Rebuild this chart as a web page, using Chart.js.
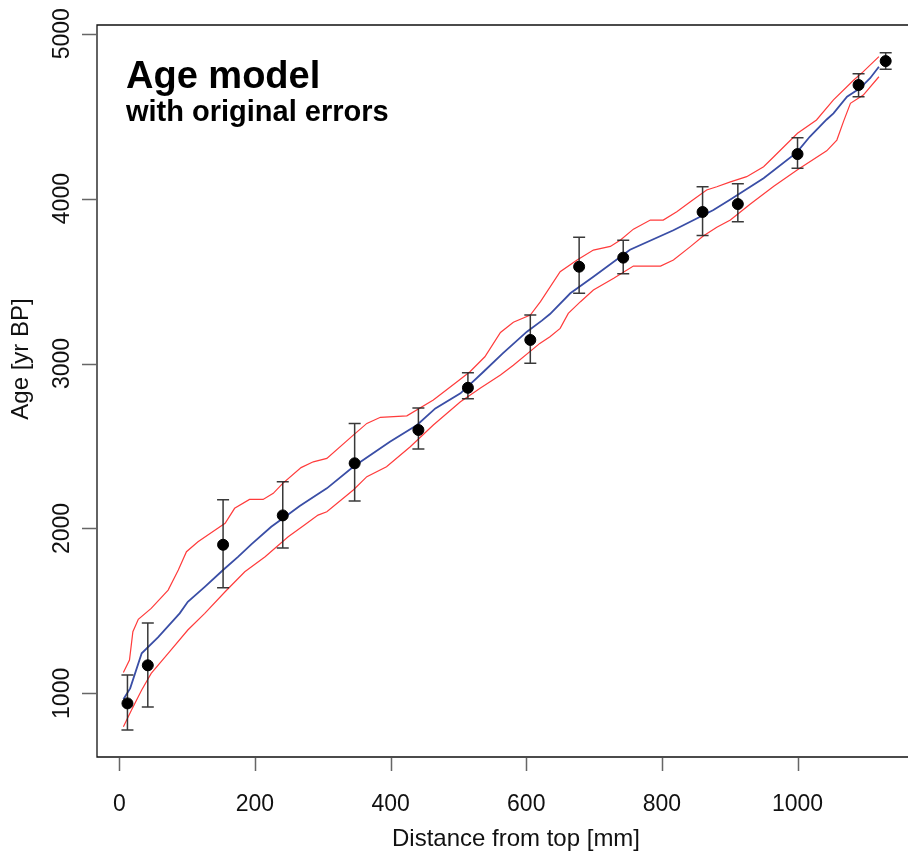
<!DOCTYPE html>
<html>
<head>
<meta charset="utf-8">
<script src="https://cdn.jsdelivr.net/npm/chart.js@4/dist/chart.umd.min.js"></script>
<style>
  html, body { margin: 0; padding: 0; background: #fff; }
  canvas { display: block; }
</style>
</head>
<body>
<canvas id="ageChart" width="908" height="858"></canvas>
<script>
// dated samples
const sampleDepth = [12, 42, 153, 241, 347, 441, 514, 606, 678, 743, 860, 912, 1000, 1090, 1130];
const sampleAge   = [939, 1170, 1901, 2079, 2395, 2597, 2853, 3143, 3587, 3642, 3919, 3967, 4270, 4689, 4834];
const sampleHigh  = [1111, 1426, 2174, 2283, 2637, 2730, 2944, 3294, 3765, 3747, 4072, 4090, 4369, 4757, 4885];
const sampleLow   = [777, 917, 1640, 1881, 2166, 2481, 2787, 3001, 3426, 3545, 3777, 3860, 4184, 4618, 4784];

// model median
const medDepth = [6, 16, 33, 57, 89, 101, 126, 153, 175, 195, 224, 249, 266, 293, 306, 345, 399, 439, 466, 503, 537, 565, 601, 623, 635, 665, 699, 753, 817, 847, 876, 901, 950, 999, 1018, 1043, 1053, 1073, 1092, 1107, 1120];
const medAge   = [964, 1030, 1243, 1340, 1485, 1555, 1646, 1748, 1828, 1905, 2010, 2085, 2136, 2209, 2243, 2374, 2526, 2627, 2728, 2819, 2950, 3060, 3193, 3260, 3300, 3426, 3526, 3690, 3808, 3870, 3931, 3995, 4123, 4280, 4375, 4480, 4517, 4618, 4669, 4730, 4800];

// upper / lower envelope
const upperDepth = [6, 15, 20, 28, 47, 72, 87, 99, 116, 143, 156, 170, 192, 212, 227, 241, 268, 286, 306, 345, 365, 385, 424, 463, 498, 517, 539, 562, 581, 606, 621, 650, 675, 699, 724, 739, 758, 783, 802, 822, 842, 866, 881, 900, 925, 950, 965, 1000, 1028, 1053, 1083, 1097, 1120];
const upperAge   = [1127, 1202, 1374, 1449, 1515, 1626, 1748, 1859, 1919, 1995, 2031, 2122, 2176, 2176, 2213, 2273, 2369, 2404, 2425, 2566, 2637, 2674, 2683, 2779, 2890, 2950, 3041, 3188, 3250, 3294, 3375, 3557, 3628, 3688, 3710, 3749, 3815, 3870, 3870, 3921, 3981, 4052, 4072, 4100, 4133, 4193, 4254, 4396, 4477, 4599, 4719, 4770, 4861];
const lowerDepth = [6, 18, 33, 47, 72, 101, 126, 156, 185, 215, 249, 273, 293, 306, 345, 365, 394, 429, 463, 503, 532, 562, 581, 620, 635, 650, 662, 680, 699, 729, 758, 798, 817, 842, 861, 881, 901, 930, 965, 1000, 1043, 1058, 1068, 1078, 1097, 1120];
const lowerAge   = [797, 899, 1020, 1121, 1243, 1384, 1485, 1616, 1737, 1828, 1950, 2021, 2081, 2101, 2233, 2314, 2374, 2495, 2627, 2768, 2850, 2930, 2990, 3122, 3163, 3213, 3304, 3375, 3446, 3517, 3591, 3591, 3628, 3709, 3773, 3826, 3870, 3966, 4075, 4175, 4290, 4355, 4470, 4578, 4628, 4739];

const xTicks = [0, 200, 400, 600, 800, 1000];
const yTicks = [1000, 2000, 3000, 4000, 5000];

const FONT = '"Liberation Sans", Arial, Helvetica, sans-serif';

function pairs(xs, ys){
  return xs.map((x, i) => ({ x, y: ys[i] }));
}

// error bars under the points, axes + text on top
const rPlot = {
  id: 'rPlot',
  beforeDatasetDraw(chart, args){
    if (args.index !== 0) return;
    const { ctx, scales: { x, y } } = chart;
    ctx.save();
    ctx.strokeStyle = 'rgba(35,35,35,0.9)';
    ctx.lineWidth = 1.5;
    sampleDepth.forEach((d, i) => {
      const px = x.getPixelForValue(d);
      const hi = y.getPixelForValue(sampleHigh[i]);
      const lo = y.getPixelForValue(sampleLow[i]);
      ctx.beginPath();
      ctx.moveTo(px, hi); ctx.lineTo(px, lo);
      ctx.moveTo(px - 6, hi); ctx.lineTo(px + 6, hi);
      ctx.moveTo(px - 6, lo); ctx.lineTo(px + 6, lo);
      ctx.stroke();
    });
    ctx.restore();
  },
  afterDraw(chart){
    const { ctx, chartArea: a, scales: { x, y } } = chart;
    ctx.save();
    // box (right side falls outside the picture)
    ctx.strokeStyle = '#111';
    ctx.lineWidth = 1.3;
    ctx.beginPath();
    ctx.moveTo(a.right + 2, a.top);
    ctx.lineTo(a.left, a.top);
    ctx.lineTo(a.left, a.bottom);
    ctx.lineTo(a.right + 2, a.bottom);
    ctx.stroke();

    // ticks
    ctx.strokeStyle = '#666';
    ctx.lineWidth = 1.5;
    ctx.beginPath();
    xTicks.forEach(v => {
      const px = Math.round(x.getPixelForValue(v)) + 0.5;
      ctx.moveTo(px, a.bottom + 1); ctx.lineTo(px, a.bottom + 14);
    });
    yTicks.forEach(v => {
      const py = Math.round(y.getPixelForValue(v)) + 0.5;
      ctx.moveTo(a.left - 15, py); ctx.lineTo(a.left - 1, py);
    });
    ctx.stroke();

    // tick labels
    ctx.fillStyle = '#111';
    ctx.font = `23px ${FONT}`;
    ctx.textAlign = 'center';
    ctx.textBaseline = 'alphabetic';
    xTicks.forEach(v => {
      ctx.fillText(String(v), x.getPixelForValue(v), 811);
    });
    yTicks.forEach(v => {
      ctx.save();
      ctx.translate(69, y.getPixelForValue(v));
      ctx.rotate(-Math.PI / 2);
      ctx.fillText(String(v), 0, 0);
      ctx.restore();
    });

    // axis titles
    ctx.font = `24px ${FONT}`;
    ctx.fillText('Distance from top [mm]', 516, 846);
    ctx.save();
    ctx.translate(28, 359);
    ctx.rotate(-Math.PI / 2);
    ctx.fillText('Age [yr BP]', 0, 0);
    ctx.restore();

    // in-plot heading
    ctx.textAlign = 'left';
    ctx.fillStyle = '#000';
    ctx.font = `bold 38px ${FONT}`;
    ctx.fillText('Age model', 126, 88);
    ctx.font = `bold 29px ${FONT}`;
    ctx.fillText('with original errors', 126, 121);
    ctx.restore();
  }
};

new Chart(document.getElementById('ageChart'), {
  type: 'scatter',
  data: {
    datasets: [
      {
        label: 'samples',
        data: pairs(sampleDepth, sampleAge),
        backgroundColor: '#000',
        borderColor: '#000',
        pointRadius: 5.5,
        pointHoverRadius: 5.5,
        order: 0
      },
      {
        label: 'median',
        data: pairs(medDepth, medAge),
        showLine: true,
        borderColor: '#3a4ea6',
        borderWidth: 1.8,
        pointRadius: 0,
        order: 1
      },
      {
        label: 'upper',
        data: pairs(upperDepth, upperAge),
        showLine: true,
        borderColor: '#ff3b3b',
        borderWidth: 1.2,
        pointRadius: 0,
        order: 2
      },
      {
        label: 'lower',
        data: pairs(lowerDepth, lowerAge),
        showLine: true,
        borderColor: '#ff3b3b',
        borderWidth: 1.2,
        pointRadius: 0,
        order: 3
      }
    ]
  },
  options: {
    responsive: false,
    devicePixelRatio: 1,
    animation: false,
    events: [],
    layout: { autoPadding: false, padding: { left: 97, top: 25, right: 0, bottom: 101 } },
    plugins: { legend: { display: false }, tooltip: { enabled: false } },
    scales: {
      x: { type: 'linear', display: false, min: -32.9, max: 1162.9 },
      y: { type: 'linear', display: false, min: 614, max: 5052.8 }
    }
  },
  plugins: [rPlot]
});
</script>
</body>
</html>
